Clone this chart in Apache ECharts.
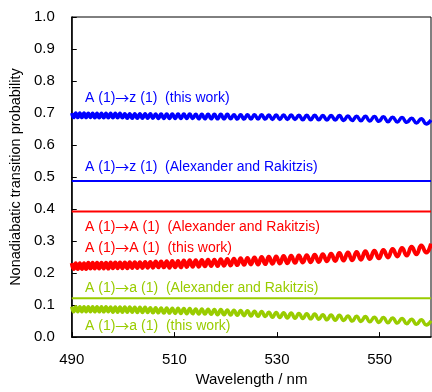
<!DOCTYPE html>
<html>
<head>
<meta charset="utf-8">
<script src="https://cdn.jsdelivr.net/npm/echarts@6/dist/echarts.min.js"></script>
<style>
  html, body { margin: 0; padding: 0; background: #fff; }
  #chart { width: 432px; height: 392px; }
</style>
</head>
<body>
<div id="chart"></div>
<script>
  // wavelengths (nm) of the wiggle extrema
  var wavelength = [
    490.00, 490.39, 490.78, 491.18, 491.58, 491.98, 492.39, 492.80, 493.22, 493.64,
    494.07, 494.49, 494.92, 495.35, 495.79, 496.23, 496.67, 497.12, 497.57, 498.02,
    498.48, 498.94, 499.40, 499.87, 500.34, 500.82, 501.30, 501.79, 502.28, 502.78,
    503.28, 503.78, 504.29, 504.80, 505.31, 505.83, 506.35, 506.88, 507.41, 507.95,
    508.50, 509.04, 509.59, 510.15, 510.71, 511.27, 511.84, 512.41, 512.99, 513.57,
    514.16, 514.75, 515.35, 515.95, 516.56, 517.17, 517.79, 518.41, 519.04, 519.67,
    520.31, 520.95, 521.60, 522.25, 522.91, 523.57, 524.24, 524.92, 525.60, 526.30,
    527.00, 527.70, 528.40, 529.11, 529.83, 530.55, 531.28, 532.01, 532.75, 533.50,
    534.26, 535.02, 535.79, 536.56, 537.34, 538.13, 538.92, 539.72, 540.53, 541.34,
    542.15, 542.98, 543.81, 544.65, 545.50, 546.35, 547.21, 548.08, 548.96, 549.84,
    550.72, 551.62, 552.52, 553.43, 554.35, 555.28, 556.22, 557.16, 558.11, 559.07,
    560.00
  ];

  // A(1)->z(1) this work
  var zThisWork = [
    0.700, 0.686, 0.700, 0.686, 0.700, 0.686, 0.700, 0.686, 0.699, 0.686,
    0.699, 0.685, 0.699, 0.685, 0.699, 0.685, 0.699, 0.685, 0.699, 0.685,
    0.699, 0.685, 0.699, 0.685, 0.698, 0.684, 0.698, 0.684, 0.698, 0.684,
    0.698, 0.684, 0.698, 0.684, 0.698, 0.684, 0.697, 0.683, 0.697, 0.683,
    0.697, 0.683, 0.697, 0.683, 0.697, 0.683, 0.697, 0.683, 0.697, 0.683,
    0.696, 0.682, 0.696, 0.682, 0.696, 0.682, 0.696, 0.682, 0.696, 0.682,
    0.696, 0.682, 0.695, 0.681, 0.695, 0.681, 0.695, 0.681, 0.695, 0.681,
    0.695, 0.681, 0.694, 0.680, 0.694, 0.680, 0.694, 0.680, 0.694, 0.680,
    0.693, 0.679, 0.693, 0.679, 0.693, 0.679, 0.692, 0.678, 0.692, 0.678,
    0.692, 0.677, 0.691, 0.677, 0.690, 0.676, 0.690, 0.675, 0.689, 0.674,
    0.688, 0.673, 0.687, 0.672, 0.686, 0.671, 0.684, 0.669, 0.682, 0.666,
    0.678
  ];

  // A(1)->A(1) this work
  var aaThisWork = [
    0.231, 0.213, 0.231, 0.213, 0.231, 0.213, 0.231, 0.213, 0.232, 0.214,
    0.232, 0.214, 0.232, 0.214, 0.232, 0.214, 0.232, 0.214, 0.233, 0.215,
    0.233, 0.215, 0.233, 0.215, 0.233, 0.215, 0.234, 0.216, 0.234, 0.216,
    0.234, 0.216, 0.235, 0.217, 0.235, 0.217, 0.236, 0.218, 0.236, 0.218,
    0.237, 0.217, 0.238, 0.218, 0.238, 0.218, 0.239, 0.219, 0.240, 0.220,
    0.240, 0.220, 0.241, 0.221, 0.242, 0.222, 0.242, 0.222, 0.243, 0.223,
    0.244, 0.224, 0.245, 0.225, 0.246, 0.226, 0.247, 0.227, 0.249, 0.227,
    0.250, 0.228, 0.251, 0.229, 0.252, 0.230, 0.253, 0.231, 0.254, 0.232,
    0.255, 0.233, 0.256, 0.234, 0.257, 0.235, 0.259, 0.237, 0.260, 0.238,
    0.263, 0.239, 0.264, 0.240, 0.266, 0.242, 0.268, 0.244, 0.270, 0.246,
    0.272, 0.249, 0.275, 0.252, 0.278, 0.255, 0.282, 0.259, 0.286, 0.264,
    0.292
  ];

  // A(1)->a(1) this work
  var aThisWork = [
    0.095, 0.079, 0.095, 0.079, 0.095, 0.079, 0.095, 0.079, 0.095, 0.079,
    0.095, 0.079, 0.095, 0.079, 0.095, 0.079, 0.095, 0.079, 0.094, 0.078,
    0.094, 0.078, 0.094, 0.078, 0.094, 0.078, 0.094, 0.078, 0.093, 0.077,
    0.093, 0.077, 0.093, 0.077, 0.092, 0.076, 0.092, 0.076, 0.091, 0.075,
    0.091, 0.075, 0.090, 0.074, 0.090, 0.074, 0.089, 0.073, 0.089, 0.073,
    0.088, 0.072, 0.088, 0.072, 0.087, 0.071, 0.086, 0.070, 0.086, 0.070,
    0.085, 0.069, 0.084, 0.068, 0.083, 0.067, 0.082, 0.066, 0.081, 0.065,
    0.080, 0.064, 0.078, 0.062, 0.077, 0.061, 0.076, 0.060, 0.075, 0.059,
    0.074, 0.058, 0.073, 0.057, 0.072, 0.056, 0.070, 0.054, 0.069, 0.053,
    0.068, 0.052, 0.066, 0.050, 0.065, 0.049, 0.064, 0.048, 0.062, 0.046,
    0.061, 0.045, 0.060, 0.044, 0.058, 0.042, 0.056, 0.040, 0.054, 0.038,
    0.051
  ];

  // Alexander and Rakitzis (constant)
  var edges = [490, 560];
  var zAlexander = [0.488, 0.488];
  var aaAlexander = [0.392, 0.392];
  var aAlexander = [0.121, 0.121];

  var BLUE = '#0000ff', RED = '#ff0000', GREEN = '#99cc00';
  var FONT = '"Liberation Sans", Arial, sans-serif';

  function pairs(xs, ys) {
    var out = [];
    for (var i = 0; i < xs.length; i++) out.push([xs[i], ys[i]]);
    return out;
  }

  function wiggle(name, ys, color, width) {
    return {
      name: name, type: 'line', data: pairs(wavelength, ys),
      showSymbol: false, smooth: 0.5, clip: true,
      lineStyle: {color: color, width: width}
    };
  }

  function flat(name, ys, color) {
    return {
      name: name, type: 'line', data: pairs(edges, ys),
      showSymbol: false,
      lineStyle: {color: color, width: 2}
    };
  }

  // state names, arrow drawn in the CJK font like the original
  function label(from, to, note, y, color) {
    return {
      type: 'text', left: 85, top: y - 8,
      style: {
        text: from + '{ar|→}' + to + '  ' + note,
        fill: color, fontSize: 14, fontFamily: FONT,
        rich: {ar: {fontFamily: '"Noto Sans CJK JP"', fontSize: 14, fill: color}}
      }
    };
  }

  var chart = echarts.init(document.getElementById('chart'));
  chart.setOption({
    animation: false,
    grid: {
      left: 71, right: 1, top: 17, bottom: 54,
      show: true, borderColor: '#000', borderWidth: 1
    },
    xAxis: {
      type: 'value', min: 490, max: 560, interval: 20,
      name: 'Wavelength / nm', nameLocation: 'middle', nameGap: 34,
      nameTextStyle: {color: '#000', fontSize: 15, fontFamily: FONT},
      axisLine: {lineStyle: {color: '#000', width: 1.5}},
      axisTick: {inside: true, length: 5, lineStyle: {color: '#000'}},
      axisLabel: {color: '#000', fontSize: 15, fontFamily: FONT, margin: 15, showMaxLabel: false},
      splitLine: {show: false}
    },
    yAxis: {
      type: 'value', min: 0, max: 1, interval: 0.1,
      name: 'Nonadiabatic transition probability', nameLocation: 'middle', nameGap: 46,
      nameTextStyle: {color: '#000', fontSize: 14.5, fontFamily: FONT},
      axisLine: {lineStyle: {color: '#000', width: 1.5}},
      axisTick: {inside: true, length: 5, lineStyle: {color: '#000'}},
      axisLabel: {
        color: '#000', fontSize: 15, fontFamily: FONT, margin: 17,
        formatter: function (v) { return v.toFixed(1); }
      },
      splitLine: {show: false}
    },
    series: [
      flat('A(1)→z(1) Alexander and Rakitzis', zAlexander, BLUE),
      flat('A(1)→A(1) Alexander and Rakitzis', aaAlexander, RED),
      flat('A(1)→a(1) Alexander and Rakitzis', aAlexander, GREEN),
      wiggle('A(1)→z(1) this work', zThisWork, BLUE, 3.5),
      wiggle('A(1)→A(1) this work', aaThisWork, RED, 4),
      wiggle('A(1)→a(1) this work', aThisWork, GREEN, 3.5)
    ],
    graphic: [
      label('A (1)', 'z (1)', '(this work)', 99, BLUE),
      label('A (1)', 'z (1)', '(Alexander and Rakitzis)', 168, BLUE),
      label('A (1)', 'A (1)', '(Alexander and Rakitzis)', 228, RED),
      label('A (1)', 'A (1)', '(this work)', 249, RED),
      label('A (1)', 'a (1)', '(Alexander and Rakitzis)', 289, GREEN),
      label('A (1)', 'a (1)', '(this work)', 327, GREEN)
    ]
  });
</script>
</body>
</html>
